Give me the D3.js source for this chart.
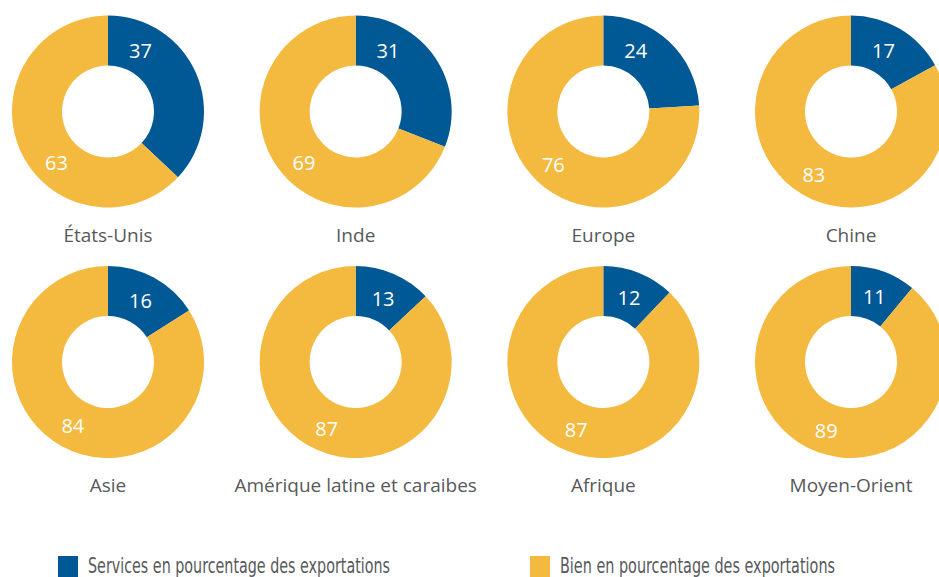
<!DOCTYPE html>
<html>
<head>
<meta charset="utf-8">
<script src="https://cdn.jsdelivr.net/npm/d3@7"></script>
<style>
  body { margin: 0; background: #fff; }
</style>
</head>
<body>
<div id="chart"></div>
<script>
// data
var regions = ["États-Unis", "Inde", "Europe", "Chine",
               "Asie", "Amérique latine et caraibes", "Afrique", "Moyen-Orient"];
var services = [37, 31, 24, 17, 16, 13, 12, 11];
var goods = [63, 69, 76, 83, 84, 87, 87, 89];
var seriesNames = ["Services en pourcentage des exportations", "Bien en pourcentage des exportations"];

var cfg = {
  w: 939,
  h: 577,
  cols: 4,
  outer: 96,
  inner: 46,
  colors: ["#005895", "#F4B93F"],
  text: "#58595B"
};

var svg = d3.select("#chart").append("svg")
  .attr("width", cfg.w)
  .attr("height", cfg.h);

// grid positions for the donut centres
var x = d3.scalePoint().domain(d3.range(cfg.cols)).range([108, 851]);
var y = d3.scalePoint().domain([0, 1]).range([111.5, 362]);

var pie = d3.pie().sort(null).value(function (d) { return d; });
var arc = d3.arc().innerRadius(cfg.inner).outerRadius(cfg.outer);
var labelR = (cfg.inner + cfg.outer) / 2;

var charts = svg.selectAll(".donut")
  .data(regions)
  .enter().append("g")
  .attr("class", "donut")
  .attr("transform", function (d, i) {
    return "translate(" + x(i % cfg.cols) + "," + y(Math.floor(i / cfg.cols)) + ")";
  });

charts.selectAll("path")
  .data(function (d, i) { return pie([services[i], goods[i]]); })
  .enter().append("path")
  .attr("d", arc)
  .attr("fill", function (d, j) { return cfg.colors[j]; });

// value labels, kept near the top of the ring like the original
charts.selectAll(".val")
  .data(function (d, i) { return pie([services[i], goods[i]]); })
  .enter().append("text")
  .attr("class", "val")
  .attr("transform", function (d, j) {
    var mid = (d.startAngle + d.endAngle) / 2;
    var a = j === 0 ? Math.min(mid, 28 * Math.PI / 180) : Math.min(mid, 225 * Math.PI / 180);
    var r = j === 0 ? labelR - 2 : labelR + 2;
    return "translate(" + (r * Math.sin(a)) + "," + (-r * Math.cos(a)) + ")";
  })
  .attr("text-anchor", "middle")
  .attr("dy", "0.36em")
  .style("font-family", "'Open Sans', sans-serif")
  .style("font-size", "20px")
  .attr("fill", "#fff")
  .text(function (d) { return d.value; });

charts.append("text")
  .attr("class", "region")
  .attr("y", 130)
  .attr("text-anchor", "middle")
  .style("font-family", "'Open Sans', sans-serif")
  .style("font-size", "19px")
  .attr("fill", cfg.text)
  .text(function (d) { return d; });

// legend
var legendX = [58, 530];
var legendW = [302, 275];
var legend = svg.selectAll(".legend")
  .data(seriesNames)
  .enter().append("g")
  .attr("class", "legend")
  .attr("transform", function (d, i) { return "translate(" + legendX[i] + ",556)"; });

legend.append("rect")
  .attr("width", 20)
  .attr("height", 21)
  .attr("fill", function (d, i) { return cfg.colors[i]; });

legend.append("text")
  .attr("x", 30)
  .attr("y", 17)
  .attr("textLength", function (d, i) { return legendW[i]; })
  .attr("lengthAdjust", "spacingAndGlyphs")
  .style("font-family", "'Liberation Sans Narrow', 'DejaVu Sans Condensed', sans-serif")
  .style("font-size", "21px")
  .attr("fill", cfg.text)
  .text(function (d) { return d; });
</script>
</body>
</html>
